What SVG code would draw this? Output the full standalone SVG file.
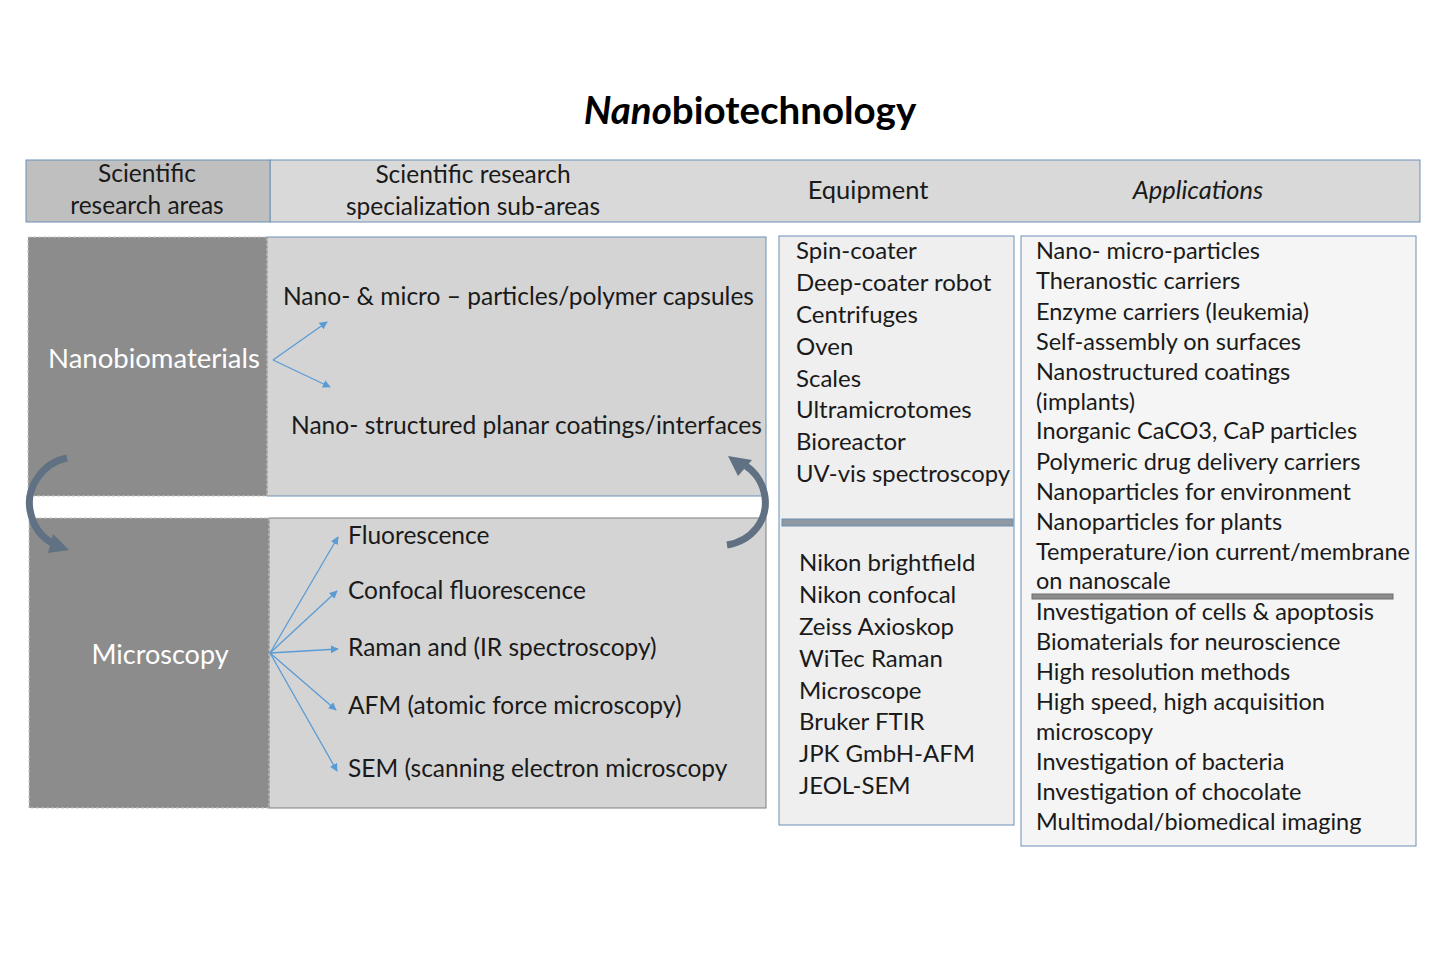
<svg xmlns="http://www.w3.org/2000/svg" width="1444" height="963" viewBox="0 0 1444 963">
<defs>
<style>
text{font-family:Lato,"Open Sans","Liberation Sans",sans-serif;fill:#1a1a1a;font-size:24px}
.w{fill:#ffffff;font-size:27px}
.h{font-size:24.5px}
.s{font-size:24.5px}
.a{font-size:23.5px}
.c{text-anchor:middle}
.blue{stroke:#5b9bd5;stroke-width:1.3;fill:none}
.curv{stroke:#5f7182;stroke-width:7;fill:none}
</style>
<marker id="ah" viewBox="0 0 10 10" refX="9" refY="5" markerWidth="8" markerHeight="8" markerUnits="userSpaceOnUse" orient="auto">
<path d="M0,0 L10,5 L0,10 z" fill="#5b9bd5"/>
</marker>
</defs>
<rect width="1444" height="963" fill="#ffffff"/>
<text x="750" y="124" class="c" style="font-size:38.5px;font-weight:bold;fill:#000"><tspan font-style="italic">Nano</tspan>biotechnology</text>

<g id="header">
<rect x="270" y="160" width="1150" height="62" fill="#d9d9d9" stroke="#6d8fb5" stroke-width="1"/>
<rect x="26" y="160" width="244" height="62" fill="#bfbfbf" stroke="#6d8fb5" stroke-width="1"/>
<text x="147" y="182" class="c h">Scientific</text>
<text x="147" y="214" class="c h">research areas</text>
<text x="473" y="183" class="c h">Scientific research</text>
<text x="473" y="215" class="c h">specialization sub-areas</text>
<text x="868" y="199" class="c h" style="font-size:25.5px">Equipment</text>
<text x="1198" y="199" class="c h" style="font-size:25.5px" font-style="italic">Applications</text>
</g>

<g id="nanobiomaterials">
<rect x="267" y="237" width="499" height="259" fill="#d4d4d4" stroke="#6d8fb5" stroke-width="1"/>
<rect x="28" y="237" width="239" height="259" fill="#8c8c8c" stroke="#c8c8c8" stroke-width="1" stroke-dasharray="3,2"/>
<text x="154" y="368" class="c w" style="font-size:27.5px">Nanobiomaterials</text>
</g>
<g id="sub-particles"><text x="283" y="305" class="s" textLength="471" lengthAdjust="spacingAndGlyphs">Nano- &amp; micro – particles/polymer capsules</text></g>
<g id="sub-coatings"><text x="291" y="434" class="s" textLength="471" lengthAdjust="spacingAndGlyphs">Nano- structured planar coatings/interfaces</text></g>

<g id="microscopy">
<rect x="269" y="518" width="497" height="290" fill="#d4d4d4" stroke="#7f7f7f" stroke-width="1"/>
<rect x="29" y="518" width="240" height="290" fill="#8c8c8c" stroke="#c8c8c8" stroke-width="1" stroke-dasharray="3,2"/>
<text x="160" y="664" class="c w">Microscopy</text>
</g>
<g id="sub-fluorescence"><text x="348" y="544" class="s">Fluorescence</text></g>
<g id="sub-confocal"><text x="348" y="599" class="s">Confocal fluorescence</text></g>
<g id="sub-raman"><text x="348" y="656" class="s">Raman and (IR spectroscopy)</text></g>
<g id="sub-afm"><text x="348" y="714" class="s">AFM (atomic force microscopy)</text></g>
<g id="sub-sem"><text x="348" y="777" class="s">SEM (scanning electron microscopy</text></g>

<g id="equipment">
<rect x="779" y="236" width="235" height="589" fill="#efefef" stroke="#6d8fb5" stroke-width="1"/>
<rect x="782" y="519" width="231" height="7" fill="#8f99a3" stroke="#6d8fb5" stroke-width="1"/>
<text x="796" y="259">Spin-coater</text>
<text x="796" y="291">Deep-coater robot</text>
<text x="796" y="323">Centrifuges</text>
<text x="796" y="355">Oven</text>
<text x="796" y="387">Scales</text>
<text x="796" y="418">Ultramicrotomes</text>
<text x="796" y="450">Bioreactor</text>
<text x="796" y="482" textLength="214" lengthAdjust="spacingAndGlyphs">UV-vis spectroscopy</text>
<text x="799" y="571">Nikon brightfield</text>
<text x="799" y="603">Nikon confocal</text>
<text x="799" y="635">Zeiss Axioskop</text>
<text x="799" y="667">WiTec Raman</text>
<text x="799" y="699">Microscope</text>
<text x="799" y="730">Bruker FTIR</text>
<text x="799" y="762">JPK GmbH-AFM</text>
<text x="799" y="794">JEOL-SEM</text>
</g>

<g id="applications">
<rect x="1021" y="236" width="395" height="610" fill="#f5f5f5" stroke="#6d8fb5" stroke-width="1"/>
<rect x="1032" y="594" width="361" height="5" fill="#8c8c8c" stroke="#6f6f6f" stroke-width="1"/>
<text x="1036" y="259" class="a">Nano- micro-particles</text>
<text x="1036" y="289" class="a">Theranostic carriers</text>
<text x="1036" y="320" class="a">Enzyme carriers (leukemia)</text>
<text x="1036" y="350" class="a">Self-assembly on surfaces</text>
<text x="1036" y="380" class="a">Nanostructured coatings</text>
<text x="1036" y="410" class="a">(implants)</text>
<text x="1036" y="439" class="a">Inorganic CaCO3, CaP particles</text>
<text x="1036" y="470" class="a">Polymeric drug delivery carriers</text>
<text x="1036" y="500" class="a">Nanoparticles for environment</text>
<text x="1036" y="530" class="a">Nanoparticles for plants</text>
<text x="1036" y="560" class="a" textLength="374" lengthAdjust="spacingAndGlyphs">Temperature/ion current/membrane</text>
<text x="1036" y="589" class="a">on nanoscale</text>
<text x="1036" y="620" class="a">Investigation of cells &amp; apoptosis</text>
<text x="1036" y="650" class="a">Biomaterials for neuroscience</text>
<text x="1036" y="680" class="a">High resolution methods</text>
<text x="1036" y="710" class="a">High speed, high acquisition</text>
<text x="1036" y="740" class="a">microscopy</text>
<text x="1036" y="770" class="a">Investigation of bacteria</text>
<text x="1036" y="800" class="a">Investigation of chocolate</text>
<text x="1036" y="830" class="a">Multimodal/biomedical imaging</text>
</g>

<g id="connectors">
<path class="blue" marker-end="url(#ah)" d="M273,360 L327,322"/>
<path class="blue" marker-end="url(#ah)" d="M273,360 L330,387"/>
<path class="blue" marker-end="url(#ah)" d="M270,653 L338,537"/>
<path class="blue" marker-end="url(#ah)" d="M270,653 L337,591"/>
<path class="blue" marker-end="url(#ah)" d="M270,653 L338,649"/>
<path class="blue" marker-end="url(#ah)" d="M270,653 L336,710"/>
<path class="blue" marker-end="url(#ah)" d="M270,653 L337,771"/>
<path class="curv" d="M67,458 C42,463 26,488 30,510 C33,527 42,538 54,544"/>
<polygon points="69,550 53,534 48,553" fill="#5f7182"/>
<path class="curv" d="M727,545 C752,541 768,520 765,497 C763,483 755,472 746,466"/>
<polygon points="728,456 752,460 738,476" fill="#5f7182"/>
</g>
</svg>
